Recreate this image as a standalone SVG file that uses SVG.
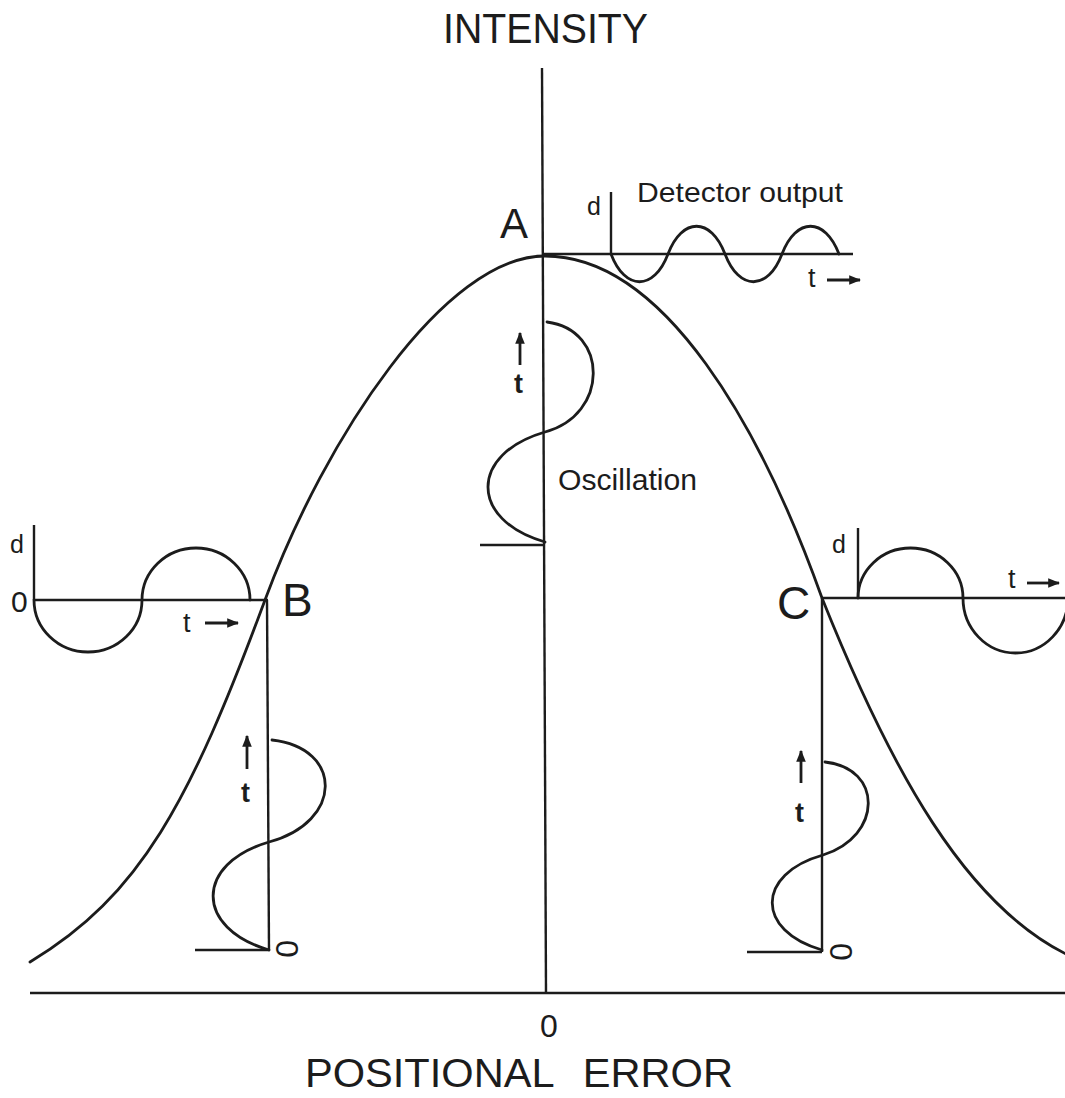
<svg xmlns="http://www.w3.org/2000/svg" width="1065" height="1098" viewBox="0 0 1065 1098">
<defs>
<style>
.ln{fill:none;stroke:#1c1c1c;stroke-width:2.8;stroke-linecap:round;stroke-linejoin:round}
.ax{fill:none;stroke:#1c1c1c;stroke-width:2.4;stroke-linecap:butt}
.ar{fill:none;stroke:#1c1c1c;stroke-width:2.8;marker-end:url(#ah)}
text{font-family:"Liberation Sans",Arial,Helvetica,sans-serif;fill:#1c1c1c}
.big{font-size:42px}
.pt{font-size:46px}
.sm{font-size:27px}
.tb{font-size:27px;font-weight:bold}
.dd{font-size:25px}
.z{font-size:32px}
</style>
<marker id="ah" viewBox="0 0 10 10" refX="9" refY="5" markerWidth="12" markerHeight="12" markerUnits="userSpaceOnUse" orient="auto">
<path d="M0,1 L10,5 L0,9 z" fill="#1c1c1c"/>
</marker>
</defs>
<rect width="1065" height="1098" fill="#ffffff"/>

<g id="connectors">
  <path id="y-axis" class="ax" d="M542,68 L546,993"/>
  <path id="x-axis" class="ax" d="M30,993 L1065,993"/>
  <path id="intensity-curve" class="ln" d="M30,962 C140,896 190,802.5 265,600 C325,438 445,256 545,256 C665,256 762,430 822,598 C892,773 966,904 1066,954"/>
</g>

<g id="axis-labels">
  <text class="big" x="443" y="43" textLength="205" lengthAdjust="spacingAndGlyphs">INTENSITY</text>
  <text x="549" y="1037" font-size="32" text-anchor="middle">0</text>
  <text x="305" y="1087" font-size="41" word-spacing="18" textLength="428" lengthAdjust="spacingAndGlyphs">POSITIONAL ERROR</text>
</g>

<g id="node-A">
  <text x="500" y="238" font-size="42">A</text>
  <text x="637" y="202" font-size="28" textLength="206" lengthAdjust="spacingAndGlyphs">Detector output</text>
  <text x="587" y="215" font-size="25">d</text>
  <path class="ax" d="M611,192 L611,254"/>
  <path class="ax" d="M543,254 L853,254"/>
  <path class="ln" d="M611,254 C625,291 654,291 668,254 C682,217 711,217 725,254 C739,291 768,291 782,254 C796,217 825,217 839,254"/>
  <text class="sm" x="808" y="287">t</text>
  <path class="ar" d="M827,280 L860,280"/>
</g>

<g id="oscillation-A">
  <path class="ax" d="M480,545 L545,545"/>
  <path class="ln" d="M545,542 C469,520 469,454 545,432 C609,415 609,330 547,322"/>
  <path class="ar" d="M520,365 L520,333"/>
  <text class="tb" x="514" y="393">t</text>
  <text x="558" y="490" font-size="30" textLength="139" lengthAdjust="spacingAndGlyphs">Oscillation</text>
</g>

<g id="node-B">
  <text class="pt" x="282" y="616">B</text>
  <text class="dd" x="10" y="553">d</text>
  <text x="11" y="612" font-size="30">0</text>
  <path class="ax" d="M34,525 L34,600"/>
  <path class="ax" d="M34,600 L268,600"/>
  <path class="ln" d="M34,600 A54,52 0 0 0 142,600 A54,52 0 0 1 250,600"/>
  <text class="sm" x="183" y="632">t</text>
  <path class="ar" d="M205,623 L238,623"/>
</g>

<g id="oscillation-B">
  <path class="ax" d="M267,600 L269,950"/>
  <path class="ax" d="M195,950 L269,950"/>
  <path class="ln" d="M269,950 C194.5,928 194.5,864 269,842 C343.5,822 343.5,748 272,740"/>
  <path class="ar" d="M247,769 L247,736"/>
  <text class="tb" x="241" y="802">t</text>
  <text class="z" x="0" y="0" text-anchor="middle" transform="translate(276,949) rotate(90)">0</text>
</g>

<g id="node-C">
  <text class="pt" x="777" y="619">C</text>
  <text class="dd" x="832" y="553">d</text>
  <path class="ax" d="M858,528 L858,598"/>
  <path class="ax" d="M822,598 L1065,598"/>
  <path class="ln" d="M858,598 A52.5,50 0 0 1 963,598 A52.5,55 0 0 0 1068,598"/>
  <text class="sm" x="1008" y="588">t</text>
  <path class="ar" d="M1027,583 L1059,583"/>
</g>

<g id="oscillation-C">
  <path class="ax" d="M822,598 L822,952"/>
  <path class="ax" d="M747,952 L822,952"/>
  <path class="ln" d="M822,950 C755.5,931 755.5,874 823,855 C883,836 883,768 825,762"/>
  <path class="ar" d="M801,783 L801,751"/>
  <text class="tb" x="795" y="822">t</text>
  <text class="z" x="0" y="0" text-anchor="middle" transform="translate(830,952) rotate(90)">0</text>
</g>
</svg>
